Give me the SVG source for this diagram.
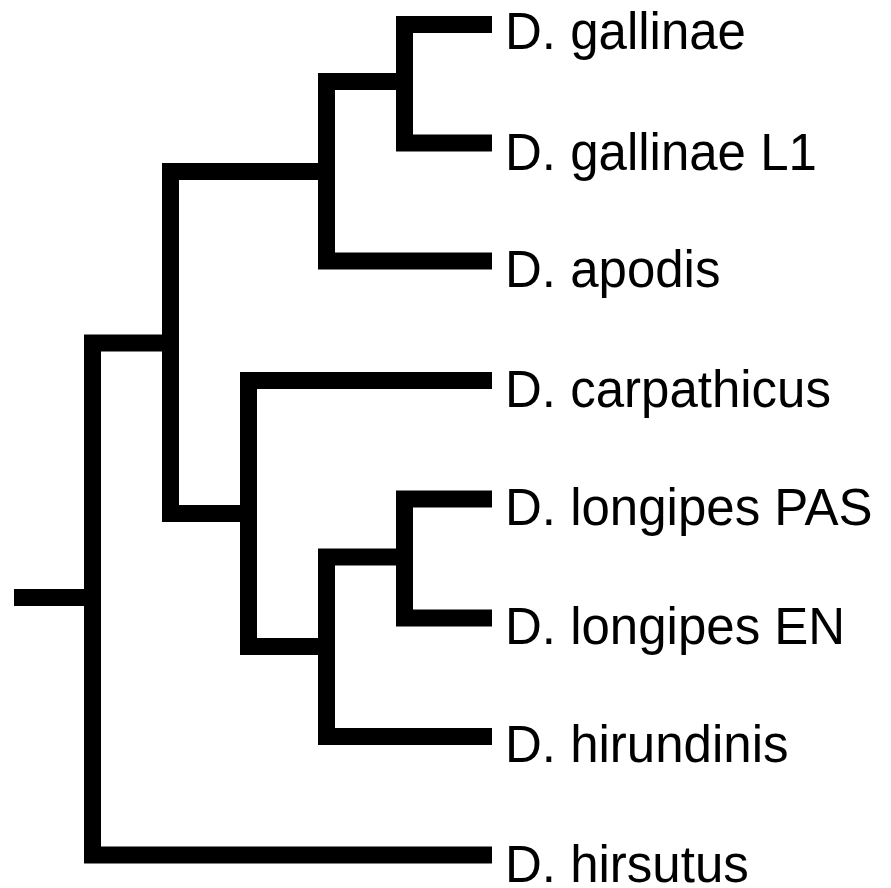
<svg xmlns="http://www.w3.org/2000/svg" width="891" height="888" viewBox="0 0 891 888">
<style>
.br{fill:none;stroke:#000;stroke-width:17;stroke-linecap:butt;stroke-linejoin:miter}
.lb{font-family:"Liberation Sans",Arial,sans-serif;font-size:51px;fill:#000}
</style>
<rect width="891" height="888" fill="#fff"/>
<g id="connectors">
<path class="br" d="M492,24.5 H404.5 V143 H492"/>
<path class="br" d="M404.5,81.5 H326.5 V261 H492"/>
<path class="br" d="M326.5,171.5 H170.5 V513.5 H248.5"/>
<path class="br" d="M492,380.5 H248.5 V646.5 H326.5"/>
<path class="br" d="M492,499 H404.5 V618 H492"/>
<path class="br" d="M404.5,557 H326.5 V736.5 H492"/>
<path class="br" d="M170.5,343 H92.5 V855 H492"/>
<path class="br" d="M14,597.5 H92.5"/>
</g>
<g id="n1"><text class="lb" x="505" y="49">D. gallinae</text></g>
<g id="n2"><text class="lb" x="505" y="170">D. gallinae L1</text></g>
<g id="n3"><text class="lb" x="505" y="287">D. apodis</text></g>
<g id="n4"><text class="lb" x="505" y="407">D. carpathicus</text></g>
<g id="n5"><text class="lb" x="505" y="525">D. longipes PAS</text></g>
<g id="n6"><text class="lb" x="505" y="644">D. longipes EN</text></g>
<g id="n7"><text class="lb" x="505" y="762">D. hirundinis</text></g>
<g id="n8"><text class="lb" x="505" y="882">D. hirsutus</text></g>
</svg>
